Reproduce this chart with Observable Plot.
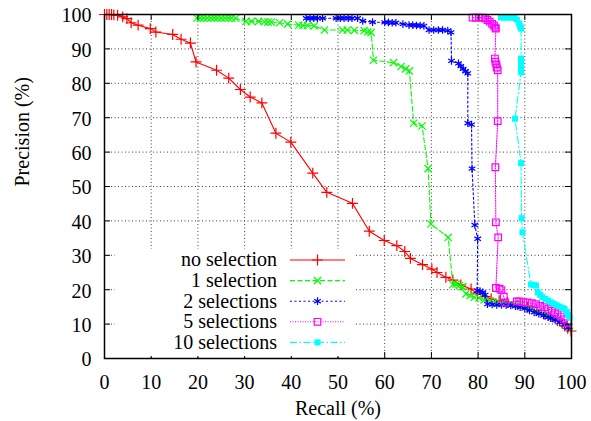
<!DOCTYPE html>
<html>
<head>
<meta charset="utf-8">
<script src="https://cdn.jsdelivr.net/npm/d3@7"></script>
<script src="https://cdn.jsdelivr.net/npm/@observablehq/plot@0.6"></script>
<style>
  html, body { margin: 0; padding: 0; background: #fff; }
  svg text { font-family: "Liberation Serif", "Times New Roman", Times, "DejaVu Serif", "Noto Serif", serif !important; }
</style>
</head>
<body>
<div id="chart"></div>
<script>
// ---- Data (Recall %, Precision %) ----
const seriesNames = ["no selection", "1 selection", "2 selections", "5 selections", "10 selections"];

const noSelection = [
  [0,100],[0.5,100],[1,100],[1.5,100],[2,99.9],[2.8,99.8],[3.9,99.3],[4.8,98.8],[5.7,97.6],[7.2,96.9],
  [9.8,95.9],[11,94.9],[14.6,94.2],[16.4,92.8],[18.4,91.7],[19.6,86.2],[24,83.8],[26.6,81.5],[29.1,78.2],
  [31.2,76],[33.7,74.3],[36.7,65.5],[39.9,62.9],[44.6,53.9],[47.6,48.3],[53.1,45.1],[56.7,37],[59.9,34.3],
  [62.6,32.8],[64.3,31.1],[65.5,29.1],[68.1,27.3],[70.1,26],[71.2,25],[73.1,23.6],[74.6,22.8],[76.3,21.4],
  [78.5,20.2],[79.9,18.8],[81.5,18.0],[82.8,17.3],[84.5,16.8],[86.3,16.3],[88.5,15.6],[90.6,14.9],[92.5,13.9],
  [94.2,12.9],[95.5,12.2],[97,11],[98,10.2],[98.5,9.5],[99.2,8.8],[99.9,8]
];

const oneSelection = [
  [19.8,99],[20.5,99],[21.2,99],[22,99],[22.8,99],[23.5,99],[24.2,99],[25,99],[25.8,99],[26.5,99],[27.2,99],
  [28.1,98.9],[30.3,98],[31.5,98],[33,98],[34.2,97.9],[35,97.8],[35.7,97.8],[37.5,97.6],[39.2,97.2],[41.6,96.9],
  [42.5,96.8],[43.5,96.8],[44.9,96.7],[47.1,95.5],[51,95.5],[52,95.5],[53.5,95.4],[55.6,95.3],[56.4,95],
  [57.1,94.8],[57.6,86.7],[61.9,86],[63.5,84.9],[64.5,84.2],[65.3,83.6],[66.2,68.4],[68,67.6],[69.3,55.2],
  [69.9,39.1],[73.6,35.2],[74.6,21.5],[75.3,21.6],[76,21.2],[76.7,20.9],[77.4,18.8],[78.3,18.3],[79.2,17.8],
  [80.2,17.6],[81.3,17],[82.5,16.8],[84,16.5],[85.5,16.2],[87,16],[89,15.5],[91,14.8],[93,13.8],[95,12.8],
  [97,11.5],[98.5,10.2],[99.5,9]
];

const twoSelections = [
  [43.2,98.9],[44,98.9],[44.8,98.9],[45.6,98.9],[46.7,98.9],[49.6,98.9],[50.5,98.9],[51.3,98.9],[52.2,98.9],
  [53,98.9],[54.2,98.9],[55.3,98.1],[57.4,97.8],[60,97.7],[60.8,97.7],[61.6,97.6],[62.4,97.6],[63.9,97.2],
  [65.2,96.9],[66,96.9],[66.8,96.8],[67.6,96.8],[68.4,96.7],[69.5,95.5],[70.5,95.5],[71.5,95.5],[72.4,95.5],
  [73.5,95.3],[74.2,94.8],[74.3,86.5],[75.8,85.8],[76.3,85],[76.8,84.2],[77.3,83.5],[77.8,82.9],[77.8,68.4],
  [78.6,68],[78.7,55.2],[79.3,38.8],[79.9,34.8],[79.8,19.7],[80.4,19.6],[81,19.2],[81.5,18.5],[82,15.8],
  [83,15.7],[84,15.6],[85,15.6],[86,15.5],[87,15.4],[88,15.2],[89,14.9],[90,14.5],[91,14.0],[92,13.4],
  [93,13.0],[94,12.5],[95,12.0],[95.6,11.7],[96.5,11.2],[97.5,10.6],[98.5,9.8],[99.3,9]
];

const fiveSelections = [
  [78.8,99.1],[79.5,99.1],[80.2,99.1],[81,99.1],[81.5,98.9],[82,98.4],[82.5,97.9],[83,97.3],[83.4,96.8],
  [83.7,96.2],[83.8,95.9],[83.6,87.2],[83.7,86.3],[83.9,85.5],[84,84.6],[84.2,83.8],[84.2,69],[83.7,55.6],
  [83.8,39.6],[84.3,35.2],[83.8,20.5],[84.6,20.3],[85,19.9],[85.5,18],[85.8,16.3],[88.3,16.6],[88.8,16.6],
  [89.7,16.4],[90.6,16.3],[91.5,16.1],[92.4,15.8],[93.3,15.3],[94.2,14.9],[95,14.4],[95.8,13.9],[96.5,13.4],
  [97,12.9],[97.7,12.2],[98.4,11.4],[99.2,10.3]
];

const tenSelections = [
  [84.9,99.1],[85.5,99.1],[86.2,99.1],[87,99.1],[87.8,99],[88.3,98.5],[88.8,97.4],[89,96.6],[89.2,95.9],
  [89.2,87.2],[89.2,86.2],[89.2,85.2],[89.2,84.2],[89.2,83.2],[87.9,69.7],[89.2,56.8],[89.3,40.8],[89.5,36.7],
  [91.3,21.5],[92,21.4],[92.4,21.2],[92.8,19.2],[93.3,18.5],[93.8,17.8],[94.4,17.3],[95,16.8],[95.6,16.3],
  [96.2,15.9],[96.8,15.5],[97.4,15.1],[98,14.7],[98.5,14.4],[99,13.5],[99.3,12.7],[99.6,11.9]
];

const xTicks = [0,10,20,30,40,50,60,70,80,90,100];
const yTicks = [0,10,20,30,40,50,60,70,80,90,100];
const xLabel = "Recall (%)";
const yLabel = "Precision (%)";

const FONT = "'Liberation Serif', 'Times New Roman', Times, 'DejaVu Serif', 'Noto Serif', serif";

// ---- Styles ----
const styles = [
  {data: noSelection,   color: "#ff0000", dash: null,          symbol: "plus",     filled: false, r: 3.6},
  {data: oneSelection,  color: "#00ff00", dash: "5,2.5",       symbol: "times",    filled: false, r: 3.4},
  {data: twoSelections, color: "#0000ff", dash: "2,2.5",       symbol: "asterisk", filled: false, r: 3.6},
  {data: fiveSelections,color: "#ff00ff", dash: "1,1.5",       symbol: "square2",  filled: false, r: 4.2},
  {data: tenSelections, color: "#00ffff", dash: "7,2.5,1.5,2.5", symbol: "square", filled: true,  r: 3.4}
];

const W = 591, H = 421;
const mL = 104, mR = 20, mT = 14, mB = 63;
const innerW = W - mL - mR, innerH = H - mT - mB;
const tickLen = 6;

const seriesMarks = [];
styles.forEach(s => {
  seriesMarks.push(Plot.line(s.data, {x: d => d[0], y: d => d[1], stroke: s.color, strokeWidth: 1.1,
    strokeDasharray: s.dash || undefined, curve: "linear"}));
  seriesMarks.push(Plot.dot(s.data, {x: d => d[0], y: d => d[1], symbol: s.symbol, r: s.r,
    stroke: s.filled ? "none" : s.color, fill: s.filled ? s.color : "none", strokeWidth: 1.2}));
});

const plot = Plot.plot({
  width: W, height: H,
  marginLeft: mL, marginRight: mR, marginTop: mT, marginBottom: mB,
  x: {domain: [0, 100]},
  y: {domain: [0, 100]},
  style: {fontFamily: FONT, fontSize: "20px", background: "#fff", color: "#000"},
  marks: [
    Plot.gridX(xTicks.slice(1, -1), {stroke: "#000", strokeOpacity: 0.75, strokeWidth: 1, strokeDasharray: "1,2.5"}),
    Plot.gridY(yTicks.slice(1, -1), {stroke: "#000", strokeOpacity: 0.75, strokeWidth: 1, strokeDasharray: "1,2.5"}),
    ...seriesMarks,
    // inward ticks
    Plot.ruleX(xTicks, {x: d => d, insetTop: innerH - tickLen, stroke: "#000", strokeWidth: 1}),
    Plot.ruleX(xTicks, {x: d => d, insetBottom: innerH - tickLen, stroke: "#000", strokeWidth: 1}),
    Plot.ruleY(yTicks, {y: d => d, insetRight: innerW - tickLen, stroke: "#000", strokeWidth: 1}),
    Plot.ruleY(yTicks, {y: d => d, insetLeft: innerW - tickLen, stroke: "#000", strokeWidth: 1}),
    Plot.axisX(xTicks, {tickSize: 0, tickPadding: 16, fontSize: 20, fontFamily: FONT, label: null, tickFormat: d => String(d)}),
    Plot.axisY(yTicks, {tickSize: 0, tickPadding: 13, fontSize: 20, fontFamily: FONT, label: null, dy: 1.5, tickFormat: d => String(d)}),
    Plot.text([xLabel], {text: d => d, frameAnchor: "bottom", lineAnchor: "middle", dy: 50, fontSize: 20, fontFamily: FONT}),
    Plot.text([yLabel], {text: d => d, frameAnchor: "left", lineAnchor: "middle", rotate: -90, dx: -82, fontSize: 20, fontFamily: FONT}),
    Plot.frame({stroke: "#000", strokeWidth: 1.5})
  ]
});

document.getElementById("chart").appendChild(plot);

// ---- Legend (gnuplot-style, inside the plot) ----
const svg = d3.select(plot.tagName.toLowerCase() === "svg" ? plot : plot.querySelector("svg"));
const lg = svg.append("g").attr("class", "legend");
lg.append("rect").attr("x", 115).attr("y", 249).attr("width", 240).attr("height", 107).attr("fill", "#fff");
const symMap = {plus: d3.symbolPlus, times: d3.symbolTimes, asterisk: d3.symbolAsterisk, square2: d3.symbolSquare2, square: d3.symbolSquare};
const rowY0 = 260, rowStep = 20.6;
seriesNames.forEach((name, i) => {
  const s = styles[i];
  const y = rowY0 + i * rowStep;
  lg.append("text").attr("x", 277).attr("y", y).attr("dy", "0.32em").attr("text-anchor", "end")
    .attr("font-family", FONT).attr("font-size", 20).attr("fill", "#000")
    .text(name);
  lg.append("line").attr("x1", 290).attr("x2", 345).attr("y1", y).attr("y2", y)
    .attr("stroke", s.color).attr("stroke-width", 1.1).attr("stroke-dasharray", s.dash || null);
  lg.append("path").attr("transform", `translate(317.5,${y})`)
    .attr("d", d3.symbol(symMap[s.symbol], Math.PI * s.r * s.r)())
    .attr("fill", s.filled ? s.color : "none").attr("stroke", s.filled ? "none" : s.color).attr("stroke-width", 1.2);
});
</script>
</body>
</html>
